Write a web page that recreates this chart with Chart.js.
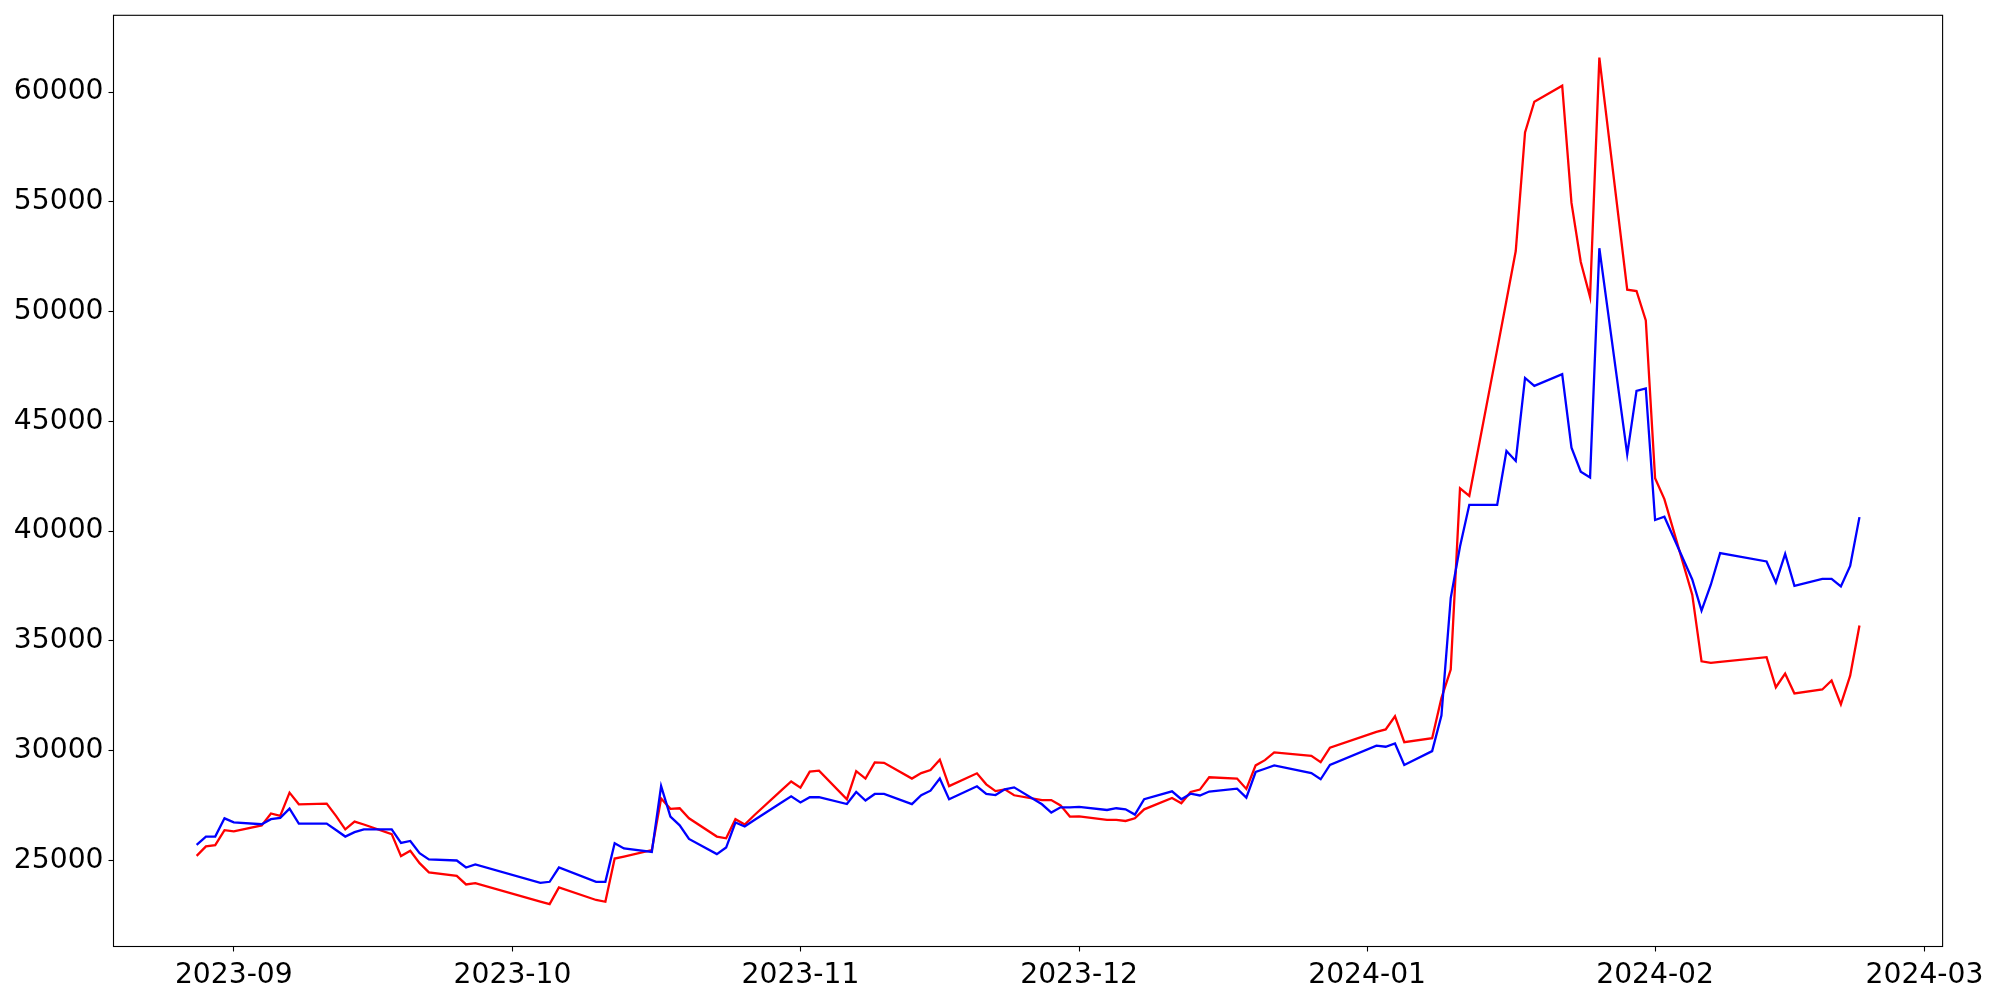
<!DOCTYPE html>
<html>
<head>
<meta charset="utf-8">
<script src="https://cdn.jsdelivr.net/npm/chart.js@4.4.1/dist/chart.umd.min.js"></script>
<style>
html,body{margin:0;padding:0;background:#fff;}
#wrap{width:2000px;height:1000px;}
</style>
</head>
<body>
<div id="wrap"><canvas id="c" width="2000" height="1000"></canvas></div>
<script>
const dates = [
"2023-08-28","2023-08-29","2023-08-30","2023-08-31","2023-09-01",
"2023-09-04","2023-09-05","2023-09-06","2023-09-07","2023-09-08",
"2023-09-11","2023-09-12","2023-09-13","2023-09-14","2023-09-15",
"2023-09-18","2023-09-19","2023-09-20","2023-09-21","2023-09-22",
"2023-09-25","2023-09-26","2023-09-27",
"2023-10-04","2023-10-05","2023-10-06",
"2023-10-10","2023-10-11","2023-10-12","2023-10-13",
"2023-10-16","2023-10-17","2023-10-18","2023-10-19","2023-10-20",
"2023-10-23","2023-10-24","2023-10-25","2023-10-26","2023-10-27",
"2023-10-30","2023-10-31","2023-11-01","2023-11-02","2023-11-03",
"2023-11-06","2023-11-07","2023-11-08","2023-11-09","2023-11-10",
"2023-11-13","2023-11-14","2023-11-15","2023-11-16","2023-11-17",
"2023-11-20","2023-11-21","2023-11-22","2023-11-23","2023-11-24",
"2023-11-27","2023-11-28","2023-11-29","2023-11-30","2023-12-01",
"2023-12-04","2023-12-05","2023-12-06","2023-12-07","2023-12-08",
"2023-12-11","2023-12-12","2023-12-13","2023-12-14","2023-12-15",
"2023-12-18","2023-12-19","2023-12-20","2023-12-21","2023-12-22",
"2023-12-26","2023-12-27","2023-12-28",
"2024-01-02","2024-01-03","2024-01-04","2024-01-05",
"2024-01-08","2024-01-09","2024-01-10","2024-01-11","2024-01-12",
"2024-01-15","2024-01-16","2024-01-17","2024-01-18","2024-01-19",
"2024-01-22","2024-01-23","2024-01-24","2024-01-25","2024-01-26",
"2024-01-29","2024-01-30","2024-01-31","2024-02-01","2024-02-02",
"2024-02-05","2024-02-06","2024-02-07","2024-02-08",
"2024-02-13","2024-02-14","2024-02-15","2024-02-16",
"2024-02-19","2024-02-20","2024-02-21","2024-02-22","2024-02-23"
];

const seriesRed = [
25210,25640,25700,26380,26330,
26600,27140,27030,28090,27560,
27590,27030,26420,26770,26640,
26200,25200,25440,24880,24460,
24300,23910,23970,
23130,23010,23770,
23200,23120,25090,25180,
25470,27820,27350,27380,26920,
26090,26010,26880,26640,27050,
28220,28600,28320,29050,29090,
27790,29070,28730,29470,29450,
28730,28980,29120,29590,28390,
28970,28470,28160,28240,27970,
27750,27750,27510,27000,27010,
26850,26850,26800,26920,27330,
27850,27610,28120,28230,28790,
28730,28260,29330,29570,29920,
29770,29480,30140,
30860,30970,31570,30390,
30570,32400,33700,41950,41610,
48270,50510,52760,58160,59560,
60290,54950,52260,50660,61570,
51000,50940,49600,42410,41460,
37110,34070,34000,34050,
34260,32890,33510,32610,
32790,33200,32110,33420,35700
];

const seriesBlue = [
25710,26090,26090,26920,26740,
26650,26880,26940,27360,26680,
26680,26390,26090,26290,26420,
26420,25800,25890,25330,25050,
25000,24680,24820,
23980,24030,24680,
24030,24030,25790,25550,
25390,28390,27000,26600,25980,
25290,25590,26730,26550,26830,
27650,27920,27640,27880,27880,
27570,28120,27730,28030,28030,
27570,27970,28180,28730,27790,
28380,28030,27980,28240,28330,
27560,27180,27420,27420,27440,
27300,27380,27330,27090,27790,
28150,27790,28040,27960,28140,
28270,27860,29030,29180,29330,
28980,28700,29350,
30230,30180,30330,29350,
29980,31600,36950,39300,41200,
41200,43650,43200,46980,46620,
47150,43800,42710,42450,52890,
43500,46390,46500,40510,40660,
37800,36380,37560,39000,
38620,37660,38960,37510,
37830,37830,37480,38420,40640
];

const yTickValues = [25000,30000,35000,40000,45000,50000,55000,60000];
const xTickLabels = ["2023-09","2023-10","2023-11","2023-12","2024-01","2024-02","2024-03"];

function dayNum(s){
  const p = s.split('-').map(Number);
  return Date.UTC(p[0], p[1]-1, p.length > 2 ? p[2] : 1) / 864e5;
}

const xs = dates.map(dayNum);
const redPts = xs.map((x,i)=>({x:x, y:seriesRed[i]}));
const bluePts = xs.map((x,i)=>({x:x, y:seriesBlue[i]}));

const allY = seriesRed.concat(seriesBlue);
const yLo = Math.min(...allY), yHi = Math.max(...allY);
const xLo = Math.min(...xs), xHi = Math.max(...xs);
const yPad = (yHi - yLo) * 0.05, xPad = (xHi - xLo) * 0.05;
const xTickValues = xTickLabels.map(dayNum);

Chart.defaults.font.family = "'DejaVu Sans', sans-serif";
Chart.defaults.font.size = 28.2;
Chart.defaults.color = '#000';

const frame = {
  id: 'frame',
  afterDatasetsDraw(chart){
    const a = chart.chartArea, ctx = chart.ctx;
    ctx.save();
    ctx.strokeStyle = '#000';
    ctx.lineWidth = 1.1;
    ctx.strokeRect(a.left, a.top, a.right - a.left, a.bottom - a.top);
    ctx.restore();
  }
};

new Chart(document.getElementById('c'), {
  type: 'line',
  data: {
    datasets: [
      {label:'red', data: redPts, borderColor:'#ff0000', borderWidth:2.3, pointRadius:0, tension:0, fill:false, order:2},
      {label:'blue', data: bluePts, borderColor:'#0000ff', borderWidth:2.3, pointRadius:0, tension:0, fill:false, order:1}
    ]
  },
  options: {
    responsive: false,
    animation: false,
    devicePixelRatio: 1,
    layout: { padding: { left: 0, top: 15.3, right: 57.4, bottom: 0 } },
    plugins: { legend: {display:false}, tooltip: {enabled:false} },
    scales: {
      x: {
        type: 'linear',
        min: xLo - xPad,
        max: xHi + xPad,
        afterBuildTicks(s){ s.ticks = xTickValues.map(v=>({value:v})); },
        afterFit(s){ s.height = 53.5; s.paddingLeft = 0; s.paddingRight = 0; },
        ticks: {
          autoSkip: false, maxRotation: 0, minRotation: 0, padding: 7,
          callback: (v, i) => xTickLabels[i]
        },
        grid: { drawOnChartArea:false, drawTicks:true, tickLength:5, tickWidth:1.1, tickColor:'#000' },
        border: { display:false }
      },
      y: {
        type: 'linear',
        min: yLo - yPad,
        max: yHi + yPad,
        afterBuildTicks(s){ s.ticks = yTickValues.map(v=>({value:v})); },
        afterFit(s){ s.width = 113.5; s.paddingTop = 0; s.paddingBottom = 0; },
        ticks: {
          autoSkip: false, padding: 5,
          callback: (v) => String(v)
        },
        grid: { drawOnChartArea:false, drawTicks:true, tickLength:5, tickWidth:1.1, tickColor:'#000' },
        border: { display:false }
      }
    }
  },
  plugins: [frame]
});
</script>
</body>
</html>
